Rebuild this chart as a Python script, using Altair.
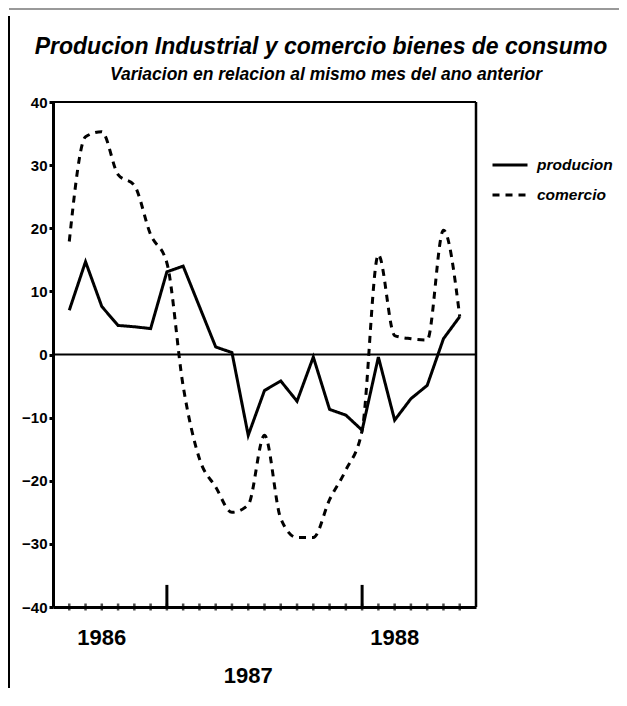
import altair as alt
import pandas as pd

# ---- data ----
months = list(range(1, 26))
producion = [7.0, 14.7, 7.6, 4.6, 4.4, 4.1, 13.1, 14.0, 7.6, 1.2, 0.3, -12.8, -5.7,
             -4.2, -7.4, -0.4, -8.7, -9.6, -12.0, -0.4, -10.4, -7.0, -4.9, 2.5, 6.0]
comercio = [17.9, 34.5, 35.3, 28.5, 26.8, 19.0, 14.5, -5.0, -16.5, -21.0, -25.0, -23.8, -12.8,
            -26.0, -29.0, -29.0, -23.0, -18.3, -12.0, 15.8, 3.0, 2.5, 2.3, 19.7, 6.0]
series_names = ["producion", "comercio"]
y_ticks = [-40, -30, -20, -10, 0, 10, 20, 30, 40]
year_labels = ["1986", "1987", "1988"]
year_label_month = [3, 12, 21]
year_start_month = [7, 19]
all_tick_months = list(range(1, 26))
title_text = "Producion Industrial y comercio bienes de consumo"
subtitle_text = "Variacion en relacion al mismo mes del ano anterior"

FONT = "Liberation Sans"
W, H = 423, 505

df = pd.DataFrame({
    "month": months * 2,
    "value": producion + comercio,
    "serie": [series_names[0]] * len(months) + [series_names[1]] * len(months),
})

xscale = alt.Scale(domain=[0, 26], nice=False, zero=False)
yscale = alt.Scale(domain=[-40, 40], nice=False)

dash = alt.StrokeDash(
    "serie:N",
    scale=alt.Scale(domain=series_names, range=[[1, 0], [7, 6]]),
    legend=alt.Legend(
        title=None, orient="none", legendX=438, legendY=44,
        symbolType="stroke", symbolSize=1225, symbolStrokeWidth=3,
        symbolStrokeColor="black", labelFont=FONT, labelFontSize=15.5,
        labelFontStyle="italic", labelFontWeight="bold", labelColor="black",
        rowPadding=2, labelOffset=8,
    ),
)

x_enc = alt.X("month:Q", scale=xscale,
              axis=alt.Axis(title=None, labels=False, ticks=False, grid=False,
                            domainWidth=3, domainColor="black"))
y_enc = alt.Y("value:Q", scale=yscale,
              axis=alt.Axis(title=None, values=y_ticks, grid=False, tickSize=4,
                            tickWidth=3, tickColor="black", labelFont=FONT,
                            labelFontSize=15, labelFontWeight="bold",
                            labelColor="black", labelPadding=2,
                            domainWidth=3, domainColor="black"))

line_prod = alt.Chart(df).transform_filter(alt.datum.serie == "producion").mark_line(
    color="black", strokeWidth=3, interpolate="linear").encode(
    x=x_enc, y=y_enc, strokeDash=dash)
line_com = alt.Chart(df).transform_filter(alt.datum.serie == "comercio").mark_line(
    color="black", strokeWidth=3, interpolate="monotone").encode(
    x="month:Q", y="value:Q", strokeDash=dash)

one = pd.DataFrame({"a": [0]})
zero_line = alt.Chart(one).mark_rule(color="black", strokeWidth=2).encode(y=alt.datum(0))
top_line = alt.Chart(one).mark_rule(color="black", strokeWidth=2).encode(y=alt.datum(40))
right_line = alt.Chart(one).mark_rule(color="black", strokeWidth=2.5).encode(x=alt.datum(26))

small_ticks = alt.Chart(pd.DataFrame({"month": all_tick_months})).mark_tick(
    orient="vertical", size=7, thickness=2.5, color="black").encode(
    x="month:Q", y=alt.datum(-40))
major_ticks = alt.Chart(pd.DataFrame({"month": year_start_month})).mark_rule(
    color="black", strokeWidth=3).encode(
    x="month:Q", y=alt.datum(-40), y2=alt.datum(-36.5))

yl = pd.DataFrame({"year": year_labels, "month": year_label_month})
labels_top = alt.Chart(yl).transform_filter(alt.datum.year != "1987").mark_text(
    font=FONT, fontSize=22, fontWeight="bold", color="black", baseline="middle").encode(
    x="month:Q", y=alt.value(H + 31), text="year:N")
labels_low = alt.Chart(yl).transform_filter(alt.datum.year == "1987").mark_text(
    font=FONT, fontSize=22, fontWeight="bold", color="black", baseline="middle").encode(
    x="month:Q", y=alt.value(H + 69), text="year:N")

titles = pd.DataFrame({"t": [title_text]})
subs = pd.DataFrame({"t": [subtitle_text]})
title_mark = alt.Chart(titles).mark_text(
    font=FONT, fontSize=23, fontStyle="italic", fontWeight="bold", color="black",
    align="center", baseline="alphabetic").encode(
    x=alt.value(268), y=alt.value(-48), text="t:N")
subtitle_mark = alt.Chart(subs).mark_text(
    font=FONT, fontSize=17.5, fontStyle="italic", fontWeight="bold", color="black",
    align="center", baseline="alphabetic").encode(
    x=alt.value(273), y=alt.value(-22), text="t:N")

frame_left = alt.Chart(one).mark_rule(color="black", strokeWidth=2).encode(
    x=alt.value(-44), y=alt.value(-86), y2=alt.value(H + 81))
frame_top = alt.Chart(one).mark_rule(color="#777777", strokeWidth=1.5).encode(
    x=alt.value(-44), x2=alt.value(W + 143), y=alt.value(-93))

chart = alt.layer(
    frame_left, frame_top, zero_line, top_line, right_line, small_ticks, major_ticks,
    line_prod, line_com, labels_top, labels_low, title_mark, subtitle_mark,
).properties(
    width=W, height=H,
    padding={"left": 45, "top": 94, "right": 143, "bottom": 81},
    autosize=alt.AutoSizeParams(type="none"),
).configure_view(stroke=None).configure(background="white")

chart.save("out.html", embed_options={"renderer": "svg", "actions": False})
